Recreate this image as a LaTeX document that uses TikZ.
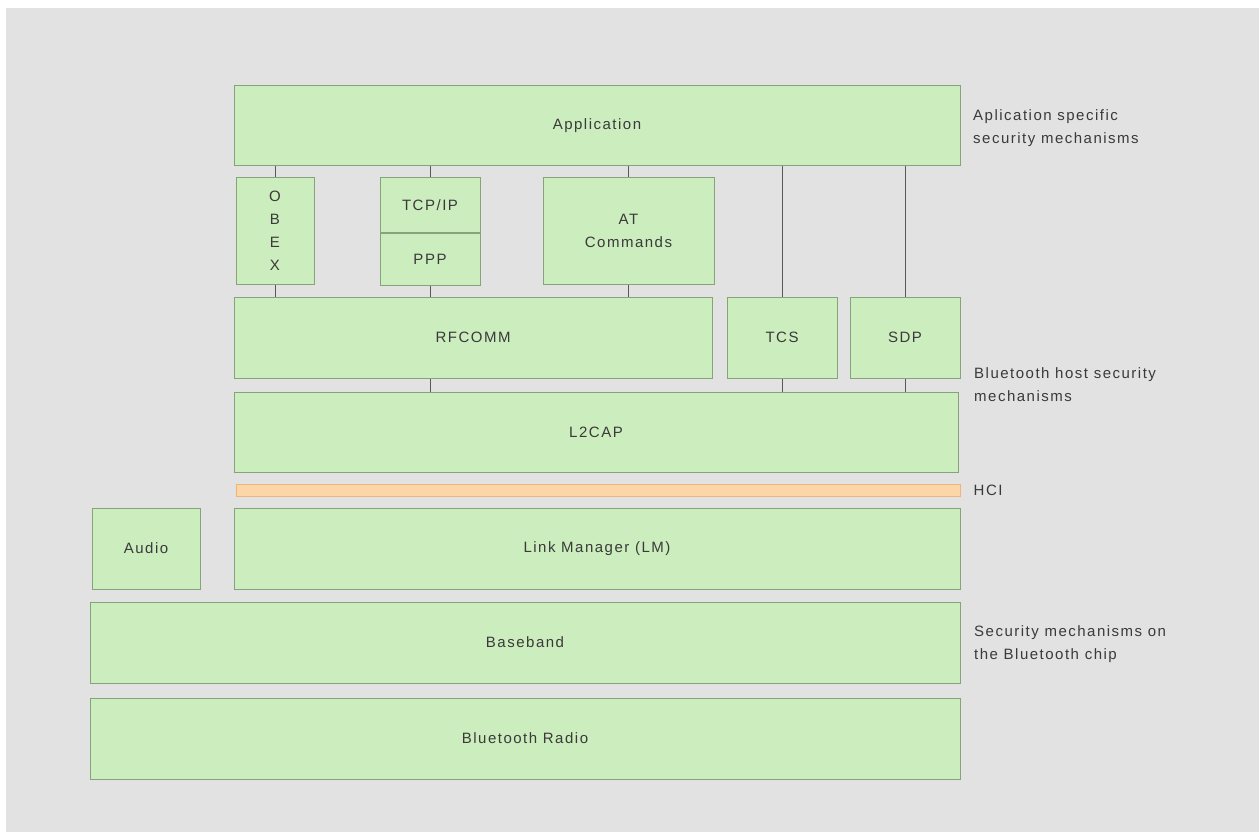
\documentclass[tikz,border=0pt]{standalone}
\usepackage{fontspec}
\usetikzlibrary{positioning}
\newfontfamily\diagfont[LetterSpace=10]{Liberation Sans}
\definecolor{bggrey}{HTML}{E2E2E2}
\definecolor{layergreen}{HTML}{CCEDBE}
\definecolor{layerline}{HTML}{86A37C}
\definecolor{hcifill}{HTML}{FBD6A6}
\definecolor{hciline}{HTML}{F0B478}
\definecolor{labeltext}{HTML}{3A3A3A}
\begin{document}
\begin{tikzpicture}[
    x=1pt,y=-1pt,
    basic/.style={inner sep=0pt,font={\diagfont\fontsize{15}{23}\selectfont},text=labeltext},
    layer/.style={basic,draw=layerline,fill=layergreen,line width=1pt,align=center},
    hcibar/.style={basic,draw=hciline,fill=hcifill,line width=1pt},
    sidenote/.style={basic,anchor=west,align=left},
    link/.style={draw=black!65,line width=1pt},
]
\useasboundingbox (0,0) rectangle (1259,832);
\fill[white] (0,0) rectangle (1259,832);
\fill[bggrey] (6,8) rectangle (1259,832);
% upper layers
        \node[layer,minimum width=726pt,minimum height=80pt] (app) at (597,126) {Application};
        \node[layer,minimum width=78pt,minimum height=106pt] (obex) at (275,231) {O\\B\\E\\X};
        \node[layer,minimum width=100pt,minimum height=54pt] (tcpip) at (430,205) {TCP/IP};
        \node[layer,minimum width=100pt,minimum height=52pt,below=0pt of tcpip] (ppp) {PPP};
        \node[layer,minimum width=171pt,minimum height=106pt] (at) at (628.5,231) {AT\\Commands};
% host layers
        \node[layer,minimum width=478pt,minimum height=81pt] (rfcomm) at (473,337.5) {RFCOMM};
        \node[layer,minimum width=110pt,minimum height=81pt] (tcs) at (782,337.5) {TCS};
        \node[layer,minimum width=110pt,minimum height=81pt] (sdp) at (905,337.5) {SDP};
        \node[layer,minimum width=724pt,minimum height=80pt] (l2cap) at (596,432) {L2CAP};
        \node[hcibar,minimum width=724pt,minimum height=12pt] (hci) at (598,490) {};
% chip layers
        \node[layer,minimum width=108pt,minimum height=81pt] (audio) at (146,548.5) {Audio};
        \node[layer,minimum width=726pt,minimum height=81pt] (lm) at (597,548.5) {Link Manager (LM)};
        \node[layer,minimum width=870pt,minimum height=81pt] (baseband) at (525,642.5) {Baseband};
        \node[layer,minimum width=870pt,minimum height=81pt] (radio) at (525,738.5) {Bluetooth Radio};
% connections
            \path[link] (app.south -| obex.north) -- (obex.north);
            \path[link] (obex.south) -- (rfcomm.north -| obex.south);
            \path[link] (app.south -| tcpip.north) -- (tcpip.north);
            \path[link] (ppp.south) -- (rfcomm.north -| ppp.south);
            \path[link] (app.south -| at.north) -- (at.north);
            \path[link] (at.south) -- (rfcomm.north -| at.south);
            \path[link] (app.south -| tcs.north) -- (tcs.north);
            \path[link] (app.south -| sdp.north) -- (sdp.north);
            \path[link] (rfcomm.south -| ppp.south) -- (l2cap.north -| ppp.south);
            \path[link] (tcs.south) -- (l2cap.north -| tcs.south);
            \path[link] (sdp.south) -- (l2cap.north -| sdp.south);
% side notes
        \node[sidenote] (noteapp) at (973,128) {Aplication specific\\security mechanisms};
        \node[sidenote] (notehost) at (974,385) {Bluetooth host security\\mechanisms};
        \node[sidenote,right=13pt of hci] (notehci) {HCI};
        \node[sidenote] (notechip) at (974,644) {Security mechanisms on\\the Bluetooth chip};
    \end{tikzpicture}
\end{document}
